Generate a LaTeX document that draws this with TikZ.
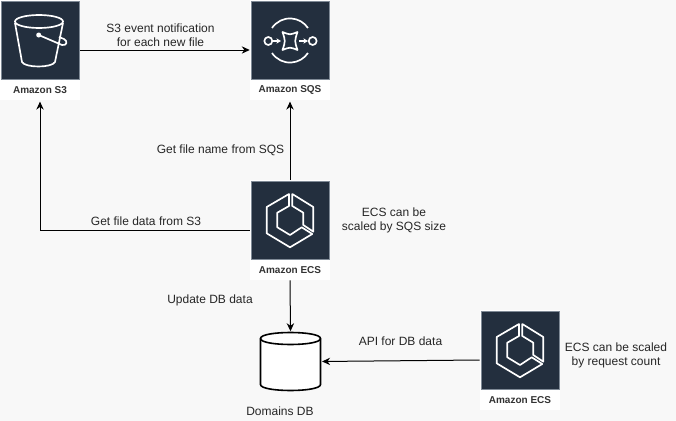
\documentclass[tikz,border=0pt]{standalone}
\usepackage{fontspec}
\setmainfont{Liberation Sans}
\usetikzlibrary{arrows.meta}
\definecolor{awsdark}{HTML}{232F3E}
\definecolor{awsedge}{HTML}{7F8A96}
\definecolor{pagebg}{HTML}{F8F8F8}
\tikzset
{
    awscard/.style  = {rectangle, fill=white, inner sep=0pt, minimum width=60pt, minimum height=75pt},
    awsicon/.style  = {rectangle, draw=awsedge, fill=awsdark, inner sep=0pt, minimum size=58.5pt},
    awslabel/.style = {inner sep=0pt, font=\fontsize{7.5}{9}\selectfont\bfseries, text=black!80},
    note/.style     = {align=center, inner sep=0pt, font=\fontsize{9}{10.5}\selectfont, text=black!85},
    flow/.style     = {->, line width=0.75pt},
    glyph/.style    = {draw=white, line width=1.25pt, line join=round},
    glyphflow/.style = {glyph, -{Stealth[length=3.5pt,width=4pt]}},
    database/.style = {rectangle, inner sep=0pt, minimum size=45pt},
    cylinderbody/.pic = {
        \draw [fill=white, line width=1.2pt] (-30,-23) .. controls (-30,-31) and (30,-31) .. (30,-23) -- (30,23) .. controls (30,31) and (-30,31) .. (-30,23) -- cycle;
        \draw [line width=1.2pt] (-30,-23) .. controls (-30,-15) and (30,-15) .. (30,-23);
    },
    bucketicon/.pic = {
        \draw [glyph] (-1,-18.5) ellipse (24 and 6.5);
        \draw [glyph] (-25,-17) -- (-18,22) .. controls (-15,28) and (12,28) .. (15,22) -- (23,-17);
        \fill [white] (-1.3,-5) circle (2.5);
        \draw [glyph] (-1.3,-5) -- (22,5) .. controls (27,6) and (28,1) .. (24,-1) -- (19,-3);
    },
    queueicon/.pic = {
        \draw [glyph] (-18,-12) arc (-146:-34:21.7);
        \draw [glyph] (-18,13) arc (146:34:21.7);
        \draw [glyph] (-21.7,1) circle (4);
        \draw [glyph] (22.7,1) circle (4);
        \draw [glyphflow] (-17,1) -- (-9,1);
        \draw [glyphflow] (9,1) -- (18,1);
        \draw [glyph] (-7.5,-8) .. controls (0,-5) .. (7.5,-8) .. controls (4.5,1) .. (7.5,10) .. controls (0,7) .. (-7.5,10) .. controls (-4.5,1) .. cycle;
    },
    containericon/.pic = {
        \draw [glyph] (-1,-26) -- (-23.3,-13) -- (-23.3,13.3) -- (0,27.3) -- (22.3,14) -- (11.7,7.3) -- (0,15) -- (-12.7,7.3) -- (-12.7,-7.3) -- (-1,-14) -- cycle;
        \draw [glyph] (2.3,-26) -- (23.3,-13) -- (23.3,11.7) -- (13.3,5) -- (13.3,-7.3) -- (2.3,-14) -- cycle;
    }
}
\begin{document}
\begin{tikzpicture}[>={Stealth[length=6pt,width=5.5pt]}, x=0.75pt, y=-0.75pt]
\fill [pagebg] (0,0) rectangle (676,421);
\useasboundingbox (0,0) rectangle (676,421);
\node [awscard] at (40,50) (s3) {};
\node [awsicon] at (40,40) (s3icon) {};
\node [awslabel] at (40,90) (s3label) {Amazon S3};
\node [awscard] at (290,50) (sqs) {};
\node [awsicon] at (290,40) (sqsicon) {};
\node [awslabel] at (290,90) (sqslabel) {Amazon SQS};
\node [awscard] at (290,230) (ecs) {};
\node [awsicon] at (290,220) (ecsicon) {};
\node [awslabel] at (290,270) (ecslabel) {Amazon ECS};
\node [awscard] at (520,360) (api) {};
\node [awsicon] at (520,350) (apiicon) {};
\node [awslabel] at (520,400) (apilabel) {Amazon ECS};
\node [database] at (290.5,361.5) (db) {};
\pic at (db) {cylinderbody};
\pic at (s3icon) {bucketicon};
\pic at (sqsicon) {queueicon};
\pic at (ecsicon) {containericon};
\pic at (apiicon) {containericon};
\node [note] at (160.5,35.5) (notify) {S3 event notification\\for each new file};
\node [note] at (220.5,150) (getname) {Get file name from SQS};
\node [note] at (146,221) (getdata) {Get file data from S3};
\node [note] at (394,220.5) (sqsscale) {ECS can be\\scaled by SQS size};
\node [note] at (210,300) (update) {Update DB data};
\node [note] at (400.5,341) (dbapi) {API for DB data};
\node [note] at (616,355) (reqscale) {ECS can be scaled\\by request count};
\node [note] at (280,411) (dbname) {Domains DB};
\draw [flow] (s3.east) -- (sqs.west);
\draw [flow, shorten >=1pt] (ecs.north) -- (sqs.south);
\draw [flow, shorten >=1pt] (ecs.west) -| (s3.south);
\draw [flow] (ecs.south) -- (db.north);
\draw [flow, shorten >=1pt] (api.west) -- (db.east);
\end{tikzpicture}
\end{document}
